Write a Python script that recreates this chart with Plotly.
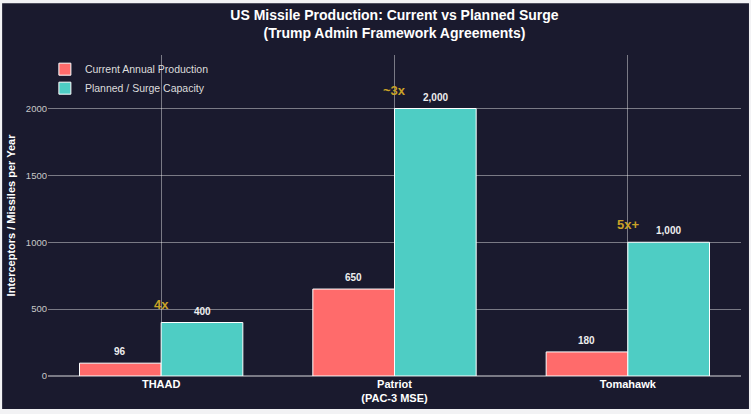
import plotly.graph_objects as go

systems = ['THAAD', 'Patriot<br>(PAC-3 MSE)', 'Tomahawk']
current = [96, 650, 180]
planned = [400, 2000, 1000]
multipliers = ['4x', '~3x', '5x+']

bg = '#1a1a2e'
red = '#FF6B6B'
teal = '#4ECDC4'
gold = '#C9A227'
grid = 'rgba(255,255,255,0.42)'
font = 'Liberation Sans, Arial, sans-serif'

fig = go.Figure()
fig.add_trace(go.Bar(x=systems, y=current, name='Current Annual Production',
                     marker=dict(color=red, line=dict(color='white', width=1)),
                     hoverinfo='x+y'))
fig.add_trace(go.Bar(x=systems, y=planned, name='Planned / Surge Capacity',
                     marker=dict(color=teal, line=dict(color='white', width=1)),
                     hoverinfo='x+y'))

# value labels above each bar
for i, s in enumerate(systems):
    for val, off in ((current[i], -41), (planned[i], 41)):
        fig.add_annotation(x=s, y=val, text=f'<b>{val:,}</b>', showarrow=False,
                           xshift=off, yshift=4, yanchor='bottom',
                           font=dict(family=font, size=10, color='#eeeeee'))
    # multiplier callout
    fig.add_annotation(x=s, y=planned[i] + 135, text=f'<b>{multipliers[i]}</b>',
                       showarrow=False, yanchor='middle',
                       font=dict(family=font, size=13, color=gold))

# dark card on light page
fig.add_shape(type='rect', xref='paper', yref='paper', layer='below',
              x0=-46 / 695, x1=703 / 695, y0=-33 / 322, y1=374 / 322,
              fillcolor=bg, line=dict(width=0))

fig.update_layout(
    width=751, height=414,
    margin=dict(l=46, r=10, t=55, b=37),
    paper_bgcolor='#f2f2f4', plot_bgcolor=bg,
    barmode='group', bargap=0.3, bargroupgap=0,
    title=dict(text='<b>US Missile Production: Current vs Planned Surge<br>(Trump Admin Framework Agreements)</b>',
               x=0.5, xref='paper', xanchor='center', y=0.952, yanchor='top',
               font=dict(family=font, size=14, color='white')),
    legend=dict(x=-0.0045, y=1.001, xanchor='left', yanchor='top',
                bgcolor='rgba(0,0,0,0)', font=dict(family=font, size=10.5, color='#dddddd')),
    xaxis=dict(range=[-0.485, 2.485], showgrid=True, gridcolor=grid, gridwidth=1,
               tickvals=systems, ticktext=[f'<b>{s}</b>' for s in systems],
               tickfont=dict(family=font, size=11, color='white'), ticks='',
               showline=False),
    yaxis=dict(range=[0, 2400], tickvals=[0, 500, 1000, 1500, 2000],
               showgrid=True, gridcolor=grid, zeroline=True, zerolinecolor=grid,
               tickfont=dict(family=font, size=9.5, color='#c8c8c8'),
               title=dict(text='<b>Interceptors / Missiles per Year</b>', standoff=8,
                          font=dict(family=font, size=11, color='white'))),
)

fig.write_html('out.html', config={'displayModeBar': False},
               post_script="document.body.style.margin='0';")
